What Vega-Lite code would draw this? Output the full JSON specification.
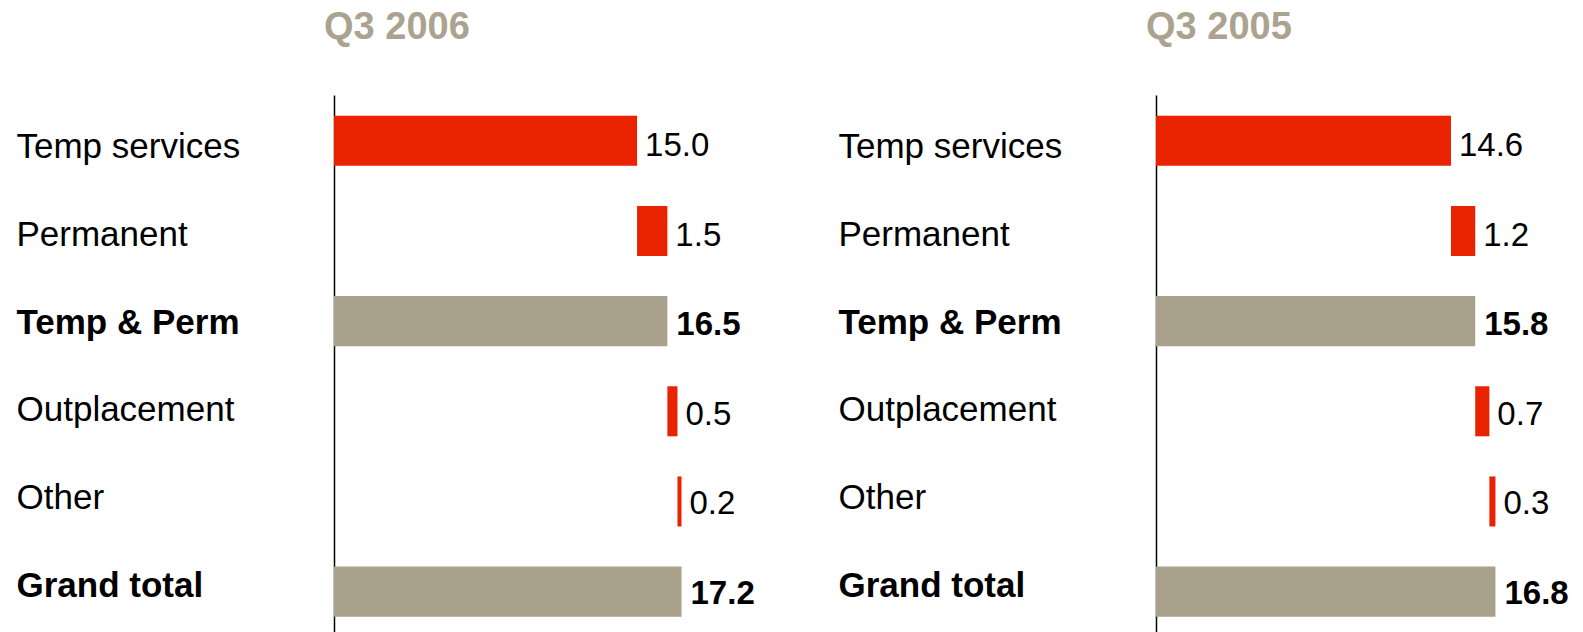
{
  "$schema": "https://vega.github.io/schema/vega-lite/v6.json",
  "padding": {"left": 16, "top": 9, "right": 0, "bottom": 0},
  "background": "white",
  "data": {"values": [
    {"panel": "Q3 2006", "cat": "Temp services", "start": 0, "end": 15.0, "label": "15.0", "kind": "item"},
    {"panel": "Q3 2006", "cat": "Permanent", "start": 15.0, "end": 16.5, "label": "1.5", "kind": "item"},
    {"panel": "Q3 2006", "cat": "Temp & Perm", "start": 0, "end": 16.5, "label": "16.5", "kind": "total"},
    {"panel": "Q3 2006", "cat": "Outplacement", "start": 16.5, "end": 17.0, "label": "0.5", "kind": "item"},
    {"panel": "Q3 2006", "cat": "Other", "start": 17.0, "end": 17.2, "label": "0.2", "kind": "item"},
    {"panel": "Q3 2006", "cat": "Grand total", "start": 0, "end": 17.2, "label": "17.2", "kind": "total"},
    {"panel": "Q3 2005", "cat": "Temp services", "start": 0, "end": 14.6, "label": "14.6", "kind": "item"},
    {"panel": "Q3 2005", "cat": "Permanent", "start": 14.6, "end": 15.8, "label": "1.2", "kind": "item"},
    {"panel": "Q3 2005", "cat": "Temp & Perm", "start": 0, "end": 15.8, "label": "15.8", "kind": "total"},
    {"panel": "Q3 2005", "cat": "Outplacement", "start": 15.8, "end": 16.5, "label": "0.7", "kind": "item"},
    {"panel": "Q3 2005", "cat": "Other", "start": 16.5, "end": 16.8, "label": "0.3", "kind": "item"},
    {"panel": "Q3 2005", "cat": "Grand total", "start": 0, "end": 16.8, "label": "16.8", "kind": "total"}
  ]},
  "spacing": 407,
  "bounds": "flush",
  "hconcat": [
    {
      "title": {"text": "Q3 2006", "anchor": "start", "frame": "group", "dx": -10, "baseline": "alphabetic", "offset": 18},
      "width": 415,
      "height": 537,
      "transform": [{"filter": "datum.panel == 'Q3 2006'"}],
      "resolve": {"scale": {"y": "independent"}, "axis": {"y": "independent"}},
      "layer": [
        {"mark": {"type": "bar"},
         "encoding": {
           "y": {"field": "cat", "type": "nominal", "sort": null, "scale": {"domain": ["Temp services", "Permanent", "Temp & Perm", "Outplacement", "Other", "Grand total"], "paddingInner": 0.445, "paddingOuter": 0.2, "align": 0.575}, "axis": null},
           "x": {"field": "start", "type": "quantitative", "scale": {"domain": [0, 20.54], "nice": false, "zero": true}, "axis": null},
           "x2": {"field": "end"},
           "color": {"field": "kind", "type": "nominal", "scale": {"domain": ["item", "total"], "range": ["#E92200", "#A9A18B"]}, "legend": null}
         }},
        {"transform": [{"filter": "datum.kind == 'item'"}],
         "mark": {"type": "text", "align": "left", "baseline": "middle", "dx": 8, "fontSize": 33, "font": "Liberation Sans", "color": "#000000"},
         "encoding": {
           "y": {"field": "cat", "type": "nominal", "sort": null, "scale": {"domain": ["Temp services", "Permanent", "Temp & Perm", "Outplacement", "Other", "Grand total"], "paddingInner": 0.445, "paddingOuter": 0.2, "align": 0.575}, "axis": null},
           "x": {"field": "end", "type": "quantitative"}, "text": {"field": "label"}}},
        {"transform": [{"filter": "datum.kind == 'total'"}],
         "mark": {"type": "text", "align": "left", "baseline": "middle", "dx": 9, "fontSize": 33, "fontWeight": "bold", "font": "Liberation Sans", "color": "#000000"},
         "encoding": {
           "y": {"field": "cat", "type": "nominal", "sort": null, "scale": {"domain": ["Temp services", "Permanent", "Temp & Perm", "Outplacement", "Other", "Grand total"], "paddingInner": 0.445, "paddingOuter": 0.2, "align": 0.575}, "axis": null},
           "x": {"field": "end", "type": "quantitative"}, "text": {"field": "label"}}},
        {"mark": {"type": "rule", "strokeOpacity": 0, "strokeWidth": 0},
         "encoding": {
           "y": {"field": "cat", "type": "nominal", "sort": null,
             "scale": {"domain": ["Temp services", "Permanent", "Temp & Perm", "Outplacement", "Other", "Grand total"], "paddingInner": 0, "paddingOuter": 0.065, "align": 0.763},
             "axis": {"orient": "left", "title": null, "domain": true, "domainColor": "#000000", "domainWidth": 1.5, "ticks": false, "tickSize": 0,
               "labelAlign": "left", "labelPadding": 318, "labelFontSize": 35, "labelFont": "Liberation Sans", "labelColor": "#000000",
               "labelBaseline": "middle", "labelOffset": 0, "labelLimit": 0,
               "labelFontWeight": {"condition": {"test": "datum.value === 'Temp & Perm' || datum.value === 'Grand total'", "value": "bold"}, "value": "normal"}}}
         }}
      ]
    },
    {
      "title": {"text": "Q3 2005", "anchor": "start", "frame": "group", "dx": -10, "baseline": "alphabetic", "offset": 18},
      "width": 415,
      "height": 537,
      "transform": [{"filter": "datum.panel == 'Q3 2005'"}],
      "resolve": {"scale": {"y": "independent"}, "axis": {"y": "independent"}},
      "layer": [
        {"mark": {"type": "bar"},
         "encoding": {
           "y": {"field": "cat", "type": "nominal", "sort": null, "scale": {"domain": ["Temp services", "Permanent", "Temp & Perm", "Outplacement", "Other", "Grand total"], "paddingInner": 0.445, "paddingOuter": 0.2, "align": 0.575}, "axis": null},
           "x": {"field": "start", "type": "quantitative", "scale": {"domain": [0, 20.54], "nice": false, "zero": true}, "axis": null},
           "x2": {"field": "end"},
           "color": {"field": "kind", "type": "nominal", "scale": {"domain": ["item", "total"], "range": ["#E92200", "#A9A18B"]}, "legend": null}
         }},
        {"transform": [{"filter": "datum.kind == 'item'"}],
         "mark": {"type": "text", "align": "left", "baseline": "middle", "dx": 8, "fontSize": 33, "font": "Liberation Sans", "color": "#000000"},
         "encoding": {
           "y": {"field": "cat", "type": "nominal", "sort": null, "scale": {"domain": ["Temp services", "Permanent", "Temp & Perm", "Outplacement", "Other", "Grand total"], "paddingInner": 0.445, "paddingOuter": 0.2, "align": 0.575}, "axis": null},
           "x": {"field": "end", "type": "quantitative"}, "text": {"field": "label"}}},
        {"transform": [{"filter": "datum.kind == 'total'"}],
         "mark": {"type": "text", "align": "left", "baseline": "middle", "dx": 9, "fontSize": 33, "fontWeight": "bold", "font": "Liberation Sans", "color": "#000000"},
         "encoding": {
           "y": {"field": "cat", "type": "nominal", "sort": null, "scale": {"domain": ["Temp services", "Permanent", "Temp & Perm", "Outplacement", "Other", "Grand total"], "paddingInner": 0.445, "paddingOuter": 0.2, "align": 0.575}, "axis": null},
           "x": {"field": "end", "type": "quantitative"}, "text": {"field": "label"}}},
        {"mark": {"type": "rule", "strokeOpacity": 0, "strokeWidth": 0},
         "encoding": {
           "y": {"field": "cat", "type": "nominal", "sort": null,
             "scale": {"domain": ["Temp services", "Permanent", "Temp & Perm", "Outplacement", "Other", "Grand total"], "paddingInner": 0, "paddingOuter": 0.065, "align": 0.763},
             "axis": {"orient": "left", "title": null, "domain": true, "domainColor": "#000000", "domainWidth": 1.5, "ticks": false, "tickSize": 0,
               "labelAlign": "left", "labelPadding": 318, "labelFontSize": 35, "labelFont": "Liberation Sans", "labelColor": "#000000",
               "labelBaseline": "middle", "labelOffset": 0, "labelLimit": 0,
               "labelFontWeight": {"condition": {"test": "datum.value === 'Temp & Perm' || datum.value === 'Grand total'", "value": "bold"}, "value": "normal"}}}
         }}
      ]
    }
  ],
  "config": {
    "view": {"stroke": null},
    "font": "Liberation Sans",
    "title": {"font": "Liberation Sans", "fontSize": 38, "fontWeight": "bold", "color": "#ABA38F"}
  }
}
